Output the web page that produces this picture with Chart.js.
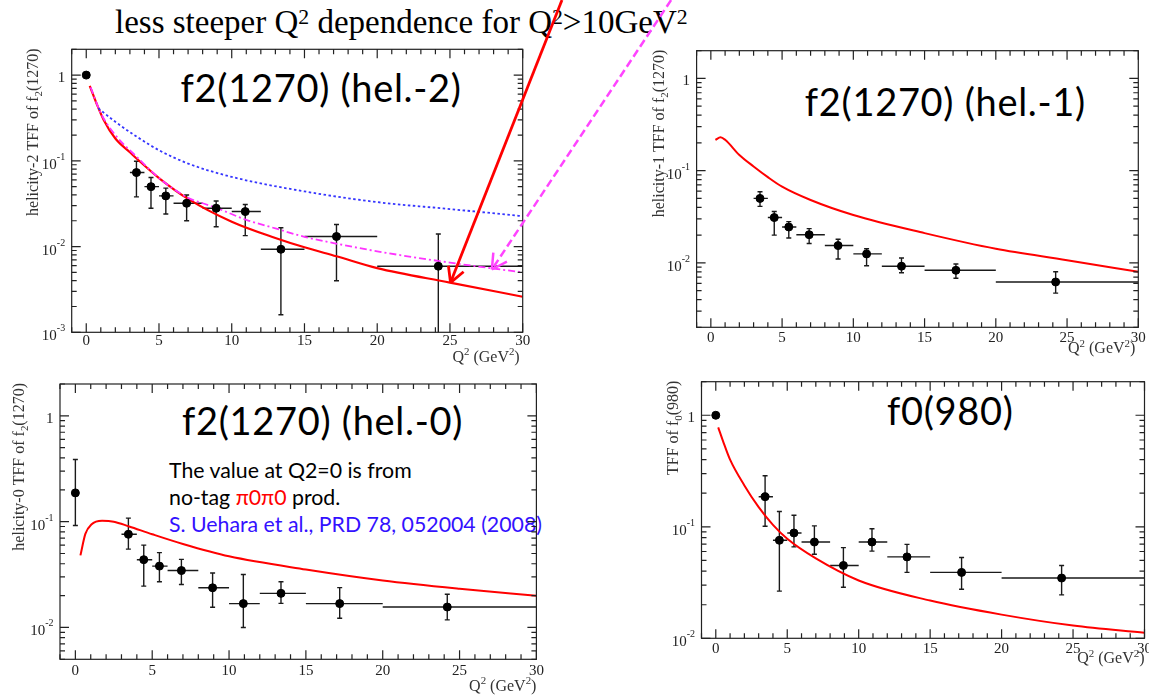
<!DOCTYPE html>
<html>
<head>
<meta charset="utf-8">
<title>f2(1270) / f0(980) transition form factors</title>
<script src="https://cdn.jsdelivr.net/npm/chart.js@4.4.0/dist/chart.umd.min.js"></script>
<style>
    html, body {
        margin: 0;
        padding: 0;
        width: 1149px;
        height: 695px;
        overflow: hidden;
        background: #fff;
    }
    body { position: relative; }
    canvas { position: absolute; z-index: 2; }
    .txt {
        position: absolute;
        white-space: nowrap;
        z-index: 1;
        color: #000;
    }
    .headline { font: 33px/33px "Liberation Serif", serif; left: 115px; top: 5.7px; }
    .headline sup { font-size: 0.66em; vertical-align: baseline; position: relative; top: -0.4em; }
    .big { font: 38px/38px Lato, sans-serif; letter-spacing: 0.7px; }
    .note { font: 21.3px/27px Lato, sans-serif; left: 169px; top: 456.5px; }
    .red { color: #ff0000; }
    .blue { color: #3311ff; }
</style>
</head>
<body>

<div class="txt headline">less steeper Q<sup>2</sup> dependence for Q<sup>2</sup>&gt;10GeV<sup>2</sup></div>
<div class="txt big" style="left:180.6px; top:68px;">f2(1270) (hel.-2)</div>
<div class="txt big" style="left:804.8px; top:82.3px;">f2(1270) (hel.-1)</div>
<div class="txt big" style="left:182px; top:401.3px;">f2(1270) (hel.-0)</div>
<div class="txt big" style="left:887px; top:391.3px;">f0(980)</div>
<div class="txt note">The value at Q2=0 is from<br>no-tag <span class="red">π0π0</span> prod.<br><span class="blue">S. Uehara et al., PRD 78, 052004 (2008)</span></div>

<canvas id="p1" width="690" height="372" style="left:0px; top:0px;"></canvas>
<canvas id="p2" width="560" height="372" style="left:620px; top:0px;"></canvas>
<canvas id="p3" width="600" height="323" style="left:0px; top:372px;"></canvas>
<canvas id="p4" width="560" height="323" style="left:620px; top:372px;"></canvas>

<script>
/* ======================
   DATA
====================== */
// Q^2 bins shared by all panels (GeV^2)
const binLo  = [3, 4, 5, 6, 8, 10, 12, 15, 20];
const binHi  = [4, 5, 6, 8, 10, 12, 15, 20, 30];
const q2Mean = [3.45, 4.45, 5.47, 6.9, 8.93, 10.93, 13.38, 17.2, 24.2];
const xTickLabels = [0, 5, 10, 15, 20, 25, 30];

// helicity-2 TFF of f2(1270)
const hel2Q0    = [1.0];
const hel2Val   = [0.073, 0.050, 0.039, 0.032, 0.028, 0.0256, 0.0093, 0.0131, 0.0059];
const hel2Up    = [0.099, 0.064, 0.048, 0.040, 0.034, 0.031, 0.0166, 0.0181, 0.014];
const hel2Down  = [0.038, 0.028, 0.024, 0.020, 0.017, 0.0134, 0.0016, 0.004, 0.0008];
const hel2RedQ2 = [0.24, 0.7, 1.2, 2, 3, 3.5, 5, 7, 10, 13, 15, 17.2, 20, 25, 30];
const hel2Red   = [0.75, 0.47, 0.30, 0.182, 0.126, 0.105, 0.063, 0.036, 0.0195, 0.0126, 0.0098, 0.0077, 0.0056, 0.0038, 0.0026];
const hel2BlueQ2 = [0.83, 2, 3.5, 5, 7, 10, 15, 20, 25, 30];
const hel2Blue   = [0.41, 0.285, 0.19, 0.133, 0.093, 0.065, 0.044, 0.033, 0.0274, 0.0226];
const hel2MagQ2 = [0.3, 1, 2, 3.5, 5, 6, 7, 8, 9, 11, 13, 15, 17, 20, 25, 30];
const hel2Mag   = [0.72, 0.36, 0.20, 0.11, 0.063, 0.047, 0.037, 0.032, 0.028, 0.0205, 0.0163, 0.013, 0.011, 0.0088, 0.0065, 0.005];
const hel2YTicks = [1, 0.1, 0.01, 0.001];

// helicity-1 TFF of f2(1270)
const hel1Val   = [0.050, 0.031, 0.0245, 0.0202, 0.0154, 0.0125, 0.0092, 0.0083, 0.0062];
const hel1Up    = [0.059, 0.036, 0.028, 0.0235, 0.018, 0.0142, 0.0113, 0.0097, 0.0080];
const hel1Down  = [0.041, 0.020, 0.0186, 0.0162, 0.011, 0.0093, 0.0078, 0.0068, 0.0047];
const hel1RedQ2 = [0.32, 0.68, 1, 2, 3, 4, 5, 7, 10, 15, 20, 25, 30];
const hel1Red   = [0.216, 0.23, 0.216, 0.148, 0.111, 0.085, 0.067, 0.048, 0.033, 0.021, 0.0142, 0.0107, 0.0080];
const hel1YTicks = [1, 0.1, 0.01];

// helicity-0 TFF of f2(1270)
const hel0Q0     = [0.187];
const hel0Q0Up   = [0.387];
const hel0Q0Down = [0.092];
const hel0Val   = [0.076, 0.0437, 0.038, 0.0345, 0.0237, 0.0168, 0.021, 0.0168, 0.0156];
const hel0Up    = [0.108, 0.060, 0.051, 0.044, 0.0327, 0.0317, 0.027, 0.0238, 0.0206];
const hel0Down  = [0.055, 0.0246, 0.027, 0.0255, 0.0155, 0.010, 0.0169, 0.0122, 0.0118];
const hel0RedQ2 = [0.33, 0.65, 1.04, 1.74, 2.5, 3.5, 5, 7, 10, 15, 20, 25, 30];
const hel0Red   = [0.048, 0.0766, 0.094, 0.102, 0.1, 0.090, 0.076, 0.0615, 0.047, 0.0353, 0.0278, 0.0232, 0.0199];
const hel0YTicks = [1, 0.1, 0.01];

// TFF of f0(980)
const f0Q0    = [1.0];
const f0Val   = [0.186, 0.0757, 0.088, 0.073, 0.045, 0.073, 0.0537, 0.039, 0.0347];
const f0Up    = [0.287, 0.137, 0.127, 0.102, 0.065, 0.096, 0.0695, 0.053, 0.045];
const f0Down  = [0.101, 0.0265, 0.066, 0.0567, 0.0287, 0.0605, 0.039, 0.0275, 0.0245];
const f0RedQ2 = [0.17, 0.5, 1, 2, 3, 4, 5, 7, 10, 15, 20, 25, 30];
const f0Red   = [0.78, 0.59, 0.40, 0.235, 0.15, 0.104, 0.078, 0.052, 0.033, 0.0218, 0.0163, 0.013, 0.0112];
const f0YTicks = [1, 0.1, 0.01];

// annotation arrows in the hel.-2 panel (data coords: tail -> head)
const arrowTail = [[32.7, 7.5], [40.2, 7.5]];
const arrowHead = [[25.04, 0.0038], [27.88, 0.0054]];

/* ======================
   HELPERS
====================== */
const SERIF = '"Liberation Serif", "Times New Roman", serif';

function xy(xs, ys) {
    return xs.map((v, i) => ({ x: v, y: ys[i] }));
}

function drawRich(ctx, parts, x, y, size, align) {
    let total = 0;
    const widths = parts.map(([t, k]) => {
        ctx.font = (k ? size * 0.68 : size) + "px " + SERIF;
        const w = ctx.measureText(t).width;
        total += w;
        return w;
    });
    let cx = align === "right" ? x - total : x;
    ctx.textAlign = "left";
    ctx.textBaseline = "alphabetic";
    parts.forEach(([t, k], i) => {
        ctx.font = (k ? size * 0.68 : size) + "px " + SERIF;
        const dy = k === "sup" ? -size * 0.42 : k === "sub" ? size * 0.22 : 0;
        ctx.fillText(t, cx, y + dy);
        cx += widths[i];
    });
}

/* ROOT style frame: inward ticks on all four sides + labels + titles */
function rootAxes(cfg) {
    return {
        id: "rootAxes",
        afterDraw(chart) {
            const { ctx, chartArea: a, scales: { x, y } } = chart;
            ctx.save();
            ctx.strokeStyle = "#222";
            ctx.fillStyle = "#222";
            ctx.lineWidth = 1.2;
            ctx.strokeRect(a.left, a.top, a.right - a.left, a.bottom - a.top);

            ctx.beginPath();
            // x ticks: minor every 1, major every 5
            for (let v = Math.ceil(x.min); v <= x.max; v++) {
                const px = x.getPixelForValue(v);
                const len = v % 5 === 0 ? 9 : 5;
                ctx.moveTo(px, a.bottom); ctx.lineTo(px, a.bottom - len);
                ctx.moveTo(px, a.top); ctx.lineTo(px, a.top + len);
            }
            // log y ticks: major at decades, minor 2..9
            const k0 = Math.floor(Math.log10(y.min)), k1 = Math.ceil(Math.log10(y.max));
            for (let k = k0; k <= k1; k++) {
                for (let m = 1; m <= 9; m++) {
                    const v = m * Math.pow(10, k);
                    if (v < y.min * 0.999 || v > y.max * 1.001) continue;
                    const py = y.getPixelForValue(v);
                    const len = m === 1 ? 9 : 5;
                    ctx.moveTo(a.left, py); ctx.lineTo(a.left + len, py);
                    ctx.moveTo(a.right, py); ctx.lineTo(a.right - len, py);
                }
            }
            ctx.stroke();

            // x tick labels
            ctx.font = "15px " + SERIF;
            ctx.textAlign = "center";
            ctx.textBaseline = "alphabetic";
            xTickLabels.forEach(v => {
                ctx.fillText(String(v), x.getPixelForValue(v), a.bottom + cfg.xLabelDy);
            });

            // y tick labels (decades)
            cfg.yTicks.forEach(v => {
                const py = y.getPixelForValue(v);
                const r = a.left - 6.5;
                if (v === 1) {
                    ctx.font = "15px " + SERIF;
                    ctx.textAlign = "right";
                    ctx.fillText("1", r, py + 7);
                } else {
                    const exp = "-" + Math.round(-Math.log10(v));
                    ctx.font = "10px " + SERIF;
                    const ws = ctx.measureText(exp).width;
                    ctx.textAlign = "left";
                    ctx.fillText(exp, r - ws, py - 1);
                    ctx.font = "15px " + SERIF;
                    ctx.textAlign = "right";
                    ctx.fillText("10", r - ws, py + 8);
                }
            });

            // x title
            ctx.fillStyle = "#333";
            drawRich(ctx, [["Q", ""], ["2", "sup"], [" (GeV", ""], ["2", "sup"], [")", ""]],
                a.right - cfg.xTitleDx, a.bottom + cfg.xTitleDy, 16, "right");

            // y title (rotated, ending at the frame top)
            ctx.save();
            ctx.translate(cfg.yTitleX, a.top - 1);
            ctx.rotate(-Math.PI / 2);
            drawRich(ctx, cfg.yTitle, 0, 5.5, 16, "right");
            ctx.restore();

            ctx.restore();
        }
    };
}

/* error bars, drawn before the markers */
const errorBars = {
    id: "errorBars",
    beforeDatasetsDraw(chart) {
        const { ctx, chartArea: a, scales: { x, y } } = chart;
        ctx.save();
        ctx.beginPath();
        ctx.rect(a.left, a.top, a.right - a.left, a.bottom - a.top);
        ctx.clip();
        ctx.strokeStyle = "#1a1a1a";
        ctx.lineWidth = 1.4;
        chart.data.datasets.forEach(ds => {
            if (!ds.errUp) return;
            ds.data.forEach((p, i) => {
                const py = y.getPixelForValue(p.y);
                const px = x.getPixelForValue(p.x);
                ctx.beginPath();
                if (ds.binHi[i] > ds.binLo[i]) {
                    ctx.moveTo(x.getPixelForValue(ds.binLo[i]), py);
                    ctx.lineTo(x.getPixelForValue(ds.binHi[i]), py);
                }
                if (ds.errUp[i] !== ds.errDown[i]) {
                    const t = y.getPixelForValue(ds.errUp[i]);
                    const b = y.getPixelForValue(ds.errDown[i]);
                    ctx.moveTo(px, t); ctx.lineTo(px, b);
                    ctx.moveTo(px - 2.5, t); ctx.lineTo(px + 2.5, t);
                    ctx.moveTo(px - 2.5, b); ctx.lineTo(px + 2.5, b);
                }
                ctx.stroke();
            });
        });
        ctx.restore();
    }
};

/* the two hand-drawn arrows of the hel.-2 panel */
const arrowsPlugin = {
    id: "arrows",
    afterDraw(chart) {
        const { ctx, scales: { x, y } } = chart;
        const styles = [
            { color: "#ff0000", width: 2.8, dash: [] },
            { color: "#ff44ff", width: 2.5, dash: [8, 4] }
        ];
        ctx.save();
        arrowTail.forEach((tail, i) => {
            const s = styles[i];
            const x0 = x.getPixelForValue(tail[0]), y0 = y.getPixelForValue(tail[1]);
            const x1 = x.getPixelForValue(arrowHead[i][0]), y1 = y.getPixelForValue(arrowHead[i][1]);
            const ang = Math.atan2(y0 - y1, x0 - x1);
            ctx.strokeStyle = s.color;
            ctx.lineWidth = s.width;
            ctx.setLineDash(s.dash);
            ctx.beginPath();
            ctx.moveTo(x0, y0); ctx.lineTo(x1, y1);
            ctx.stroke();
            ctx.setLineDash([]);
            ctx.beginPath();
            [0.5, -0.5].forEach(d => {
                ctx.moveTo(x1, y1);
                ctx.lineTo(x1 + 17 * Math.cos(ang + d), y1 + 17 * Math.sin(ang + d));
            });
            ctx.stroke();
        });
        ctx.restore();
    }
};

/* ======================
   PANELS
====================== */
function pointSet(xs, vals, ups, downs, lo, hi) {
    return {
        data: xy(xs, vals),
        errUp: ups, errDown: downs, binLo: lo, binHi: hi,
        showLine: false,
        pointRadius: 4,
        pointBackgroundColor: "#000",
        pointBorderColor: "#000",
        order: 0
    };
}

function curve(xs, ys, color, dash, width) {
    return {
        data: xy(xs, ys),
        showLine: true,
        pointRadius: 0,
        borderColor: color,
        borderWidth: width,
        borderDash: dash,
        cubicInterpolationMode: "monotone",
        fill: false,
        order: 1
    };
}

const panels = [
    {
        canvas: "p1", box: [0, 0], area: [71.7, 49.3, 522.7, 332.3],
        yMin: 1e-3, yMax: 2, yTicks: hel2YTicks,
        yTitle: [["helicity-2 TFF of f", ""], ["2", "sub"], ["(1270)", ""]], yTitleX: 32.7,
        xTitleDx: 3, xTitleDy: 29.4, xLabelDy: 12.7,
        datasets: [
            pointSet([0], hel2Q0, hel2Q0, hel2Q0, [0], [0]),
            pointSet(q2Mean, hel2Val, hel2Up, hel2Down, binLo, binHi),
            curve(hel2BlueQ2, hel2Blue, "#3535ff", [2.5, 2.5], 1.8),
            curve(hel2MagQ2, hel2Mag, "#ff33ff", [7, 3, 2, 3], 1.8),
            curve(hel2RedQ2, hel2Red, "#ff0000", [], 2.2)
        ],
        extra: [arrowsPlugin]
    },
    {
        canvas: "p2", box: [620, 0], area: [696.6, 50.7, 1138.3, 327.3],
        yMin: 2e-3, yMax: 2, yTicks: hel1YTicks,
        yTitle: [["helicity-1 TFF of f", ""], ["2", "sub"], ["(1270)", ""]], yTitleX: 658.6,
        xTitleDx: 3, xTitleDy: 26, xLabelDy: 14.4,
        datasets: [
            pointSet(q2Mean, hel1Val, hel1Up, hel1Down, binLo, binHi),
            curve(hel1RedQ2, hel1Red, "#ff0000", [], 2)
        ],
        extra: []
    },
    {
        canvas: "p3", box: [0, 372], area: [60, 384, 536.4, 659.3],
        yMin: 5e-3, yMax: 2, yTicks: hel0YTicks,
        yTitle: [["helicity-0 TFF of f", ""], ["2", "sub"], ["(1270)", ""]], yTitleX: 18.75,
        xTitleDx: 0, xTitleDy: 31.4, xLabelDy: 15.7,
        datasets: [
            pointSet([0], hel0Q0, hel0Q0Up, hel0Q0Down, [0], [0]),
            pointSet(q2Mean, hel0Val, hel0Up, hel0Down, binLo, binHi),
            curve(hel0RedQ2, hel0Red, "#ff0000", [], 2)
        ],
        extra: []
    },
    {
        canvas: "p4", box: [620, 372], area: [701.5, 381.7, 1144.5, 638.3],
        yMin: 1e-2, yMax: 2, yTicks: f0YTicks,
        yTitle: [["TFF of f", ""], ["0", "sub"], ["(980)", ""]], yTitleX: 672.6,
        xTitleDx: 0, xTitleDy: 25, xLabelDy: 15,
        datasets: [
            pointSet([0], f0Q0, f0Q0, f0Q0, [0], [0]),
            pointSet(q2Mean, f0Val, f0Up, f0Down, binLo, binHi),
            curve(f0RedQ2, f0Red, "#ff0000", [], 2)
        ],
        extra: []
    }
];

panels.forEach(p => {
    const el = document.getElementById(p.canvas);
    const [bx, by] = p.box;
    const [L, T, R, B] = p.area;
    const cfg = {
        yTicks: p.yTicks, yTitle: p.yTitle, yTitleX: p.yTitleX - bx,
        xTitleDx: p.xTitleDx, xTitleDy: p.xTitleDy, xLabelDy: p.xLabelDy
    };

    new Chart(el, {
        type: "scatter",
        data: { datasets: p.datasets },
        options: {
            responsive: false,
            animation: false,
            events: [],
            layout: {
                padding: {
                    left: L - bx,
                    top: T - by,
                    right: bx + el.width - R,
                    bottom: by + el.height - B
                }
            },
            scales: {
                x: { type: "linear", min: -1, max: 30, display: false },
                y: { type: "logarithmic", min: p.yMin, max: p.yMax, display: false }
            },
            plugins: {
                legend: { display: false },
                tooltip: { enabled: false }
            }
        },
        plugins: [errorBars, rootAxes(cfg)].concat(p.extra)
    });
});
</script>
</body>
</html>
